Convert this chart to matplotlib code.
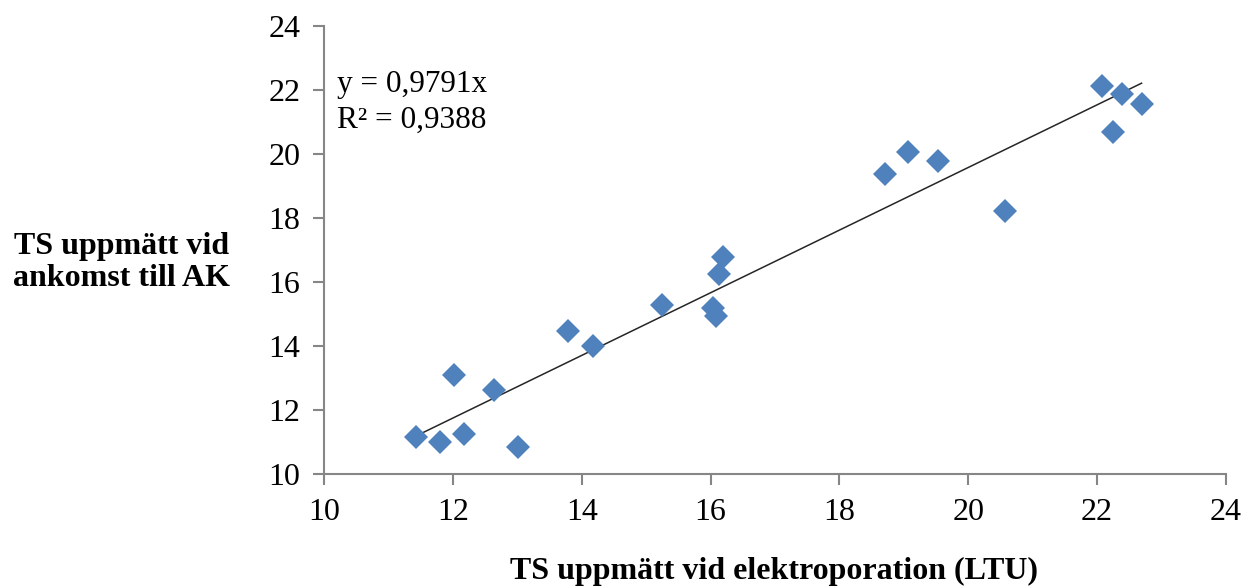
import matplotlib
matplotlib.use("Agg")
import matplotlib.pyplot as plt
import numpy as np

plt.rcParams['font.family'] = ['Liberation Serif', 'DejaVu Serif']

# TS measured at electroporation (LTU) vs. on arrival at AK
ts_ltu = [11.43, 11.80, 12.17, 12.02, 12.64, 13.01, 13.79, 14.18, 15.25, 16.04,
          16.09, 16.13, 16.20, 18.70, 19.07, 19.53, 20.57, 22.07, 22.24, 22.39, 22.69]
ts_ak = [11.16, 11.00, 11.25, 13.09, 12.63, 10.84, 14.47, 14.00, 15.28, 15.19,
         14.94, 16.25, 16.78, 19.38, 20.06, 19.78, 18.22, 22.13, 20.69, 21.88, 21.56]
slope = 0.9791
r2 = 0.9388

x_ticks = [10, 12, 14, 16, 18, 20, 22, 24]
y_ticks = [10, 12, 14, 16, 18, 20, 22, 24]

fig = plt.figure(figsize=(12.44, 5.87), dpi=100)
ax = fig.add_axes([0.2605, 0.1925, 0.725, 0.763])

ax.plot(ts_ltu, ts_ak, linestyle='none', marker='D', markersize=12,
        color='#4F81BD', markeredgewidth=0, zorder=3)

# trendline through origin
xs = np.array([min(ts_ltu), max(ts_ltu)])
ax.plot(xs, slope * xs, color='#262626', linewidth=1.1, zorder=2)

ax.text(10.2, 21.94, 'y = 0,9791x', fontsize=22.5, va='baseline', ha='left')
ax.text(10.2, 20.81, 'R² = 0,9388', fontsize=22.5, va='baseline', ha='left')

ax.set_xlim(10, 24)
ax.set_ylim(10, 24)
ax.set_xticks(x_ticks)
ax.set_yticks(y_ticks)
ax.set_xticklabels([str(t) for t in x_ticks], fontsize=23)
ax.set_yticklabels([str(t) for t in y_ticks], fontsize=23)

for s in ['top', 'right']:
    ax.spines[s].set_visible(False)
for s in ['left', 'bottom']:
    ax.spines[s].set_color('#868686')
    ax.spines[s].set_linewidth(1.5)
ax.tick_params(axis='both', direction='out', length=8, width=1.5,
               color='#868686', pad=9)

fig.text(0.622, 0.002, 'TS uppmätt vid elektroporation (LTU)', fontsize=23,
         fontweight='bold', ha='center', va='bottom')
fig.text(0.098, 0.553, 'TS uppmätt vid\nankomst till AK', fontsize=23,
         fontweight='bold', ha='center', va='center', linespacing=1.15)

fig.savefig('out.png', dpi=100)
